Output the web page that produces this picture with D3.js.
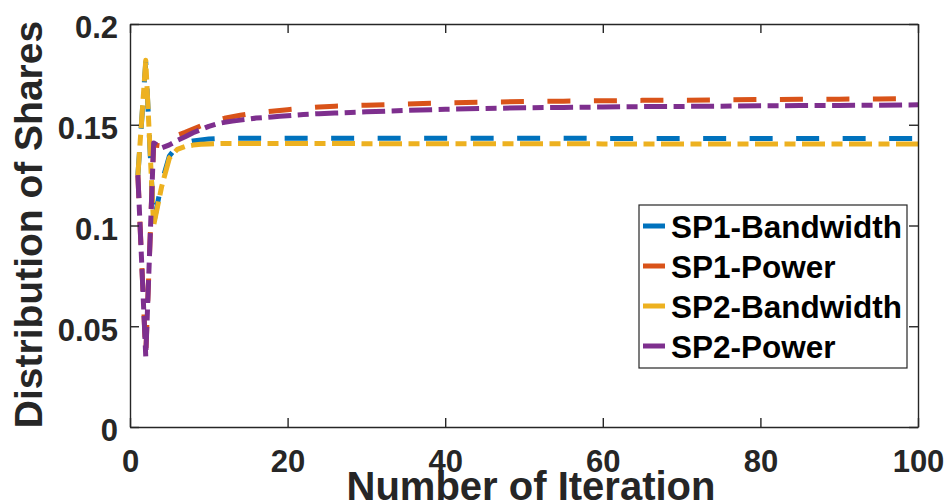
<!DOCTYPE html>
<html>
<head>
<meta charset="utf-8">
<script src="https://cdn.jsdelivr.net/npm/d3@7"></script>
<style>
  html, body { margin: 0; padding: 0; background: #fff; }
  svg { display: block; }
  text { font-family: "Liberation Sans", Arial, Helvetica, sans-serif; font-weight: bold; }
</style>
</head>
<body>
<svg id="chart" width="949" height="501"></svg>
<script>
// ---- data ----
const iterations = [1,2,3,4,5,6,7,8,9,10,11,12,13,14,15,16,17,18,19,20,22,24,26,28,30,35,40,45,50,55,60,65,70,75,80,85,90,95,100];

const sp1Bandwidth = [0.125,0.181,0.101,0.121,0.1345,0.1395,0.1411,0.1419,0.1425,0.1429,0.1431,0.1432,0.1433,0.1433,0.1433,0.1433,0.1433,0.1433,0.1433,0.1433,0.1433,0.1433,0.1433,0.1433,0.1433,0.1433,0.1433,0.1433,0.1433,0.1433,0.1432,0.1432,0.1432,0.1432,0.1432,0.1432,0.1432,0.1432,0.1432];

const sp1Power = [0.125,0.036,0.140,0.1395,0.1432,0.1448,0.1462,0.1478,0.1495,0.1510,0.1522,0.1532,0.1540,0.1547,0.1553,0.1558,0.1563,0.1567,0.1571,0.1575,0.1582,0.1588,0.1592,0.1595,0.1597,0.1603,0.1608,0.1612,0.1615,0.1617,0.1619,0.1621,0.1622,0.1623,0.1625,0.1626,0.1627,0.1628,0.1630];

const sp2Bandwidth = [0.125,0.182,0.100,0.119,0.1335,0.1378,0.1392,0.1399,0.1403,0.1405,0.1406,0.1407,0.1407,0.1407,0.1407,0.1407,0.1407,0.1407,0.1407,0.1407,0.1407,0.1407,0.1407,0.1407,0.1406,0.1406,0.1406,0.1406,0.1406,0.1406,0.1405,0.1405,0.1405,0.1405,0.1405,0.1405,0.1405,0.1405,0.1405];

const sp2Power = [0.125,0.035,0.141,0.1385,0.1400,0.1422,0.1440,0.1460,0.1476,0.1492,0.1504,0.1512,0.1518,0.1523,0.1528,0.1533,0.1536,0.1539,0.1542,0.1545,0.1551,0.1555,0.1558,0.1561,0.1564,0.1571,0.1577,0.1581,0.1584,0.1586,0.1588,0.1590,0.1591,0.1592,0.1594,0.1595,0.1596,0.1597,0.1599];

const seriesNames = ["SP1-Bandwidth", "SP1-Power", "SP2-Bandwidth", "SP2-Power"];
const seriesValues = [sp1Bandwidth, sp1Power, sp2Bandwidth, sp2Power];
const xTicks = [0, 20, 40, 60, 80, 100];
const yTicks = [0, 0.05, 0.1, 0.15, 0.2];
const xLabel = "Number of Iteration";
const yLabel = "Distribution of Shares";

// ---- styles ----
const colors = ["#0072BD", "#D95319", "#EDB120", "#7E2F8E"];
const dashes = ["23,23.5", "23,23.5", "23,6.5,11,6.5", "23,6.5,11,6.5"];
const axisColor = "#262626";

const svg = d3.select("#chart");
const pLeft = 130, pRight = 918, pTop = 24, pBottom = 427;

const x = d3.scaleLinear().domain([0, 100]).range([pLeft, pRight]);
const y = d3.scaleLinear().domain([0, 0.2]).range([pBottom, pTop]);

const fmt = d => String(+(+d).toFixed(2));

// lines
svg.append("clipPath").attr("id", "plotclip")
  .append("rect").attr("x", pLeft).attr("y", pTop - 5).attr("width", pRight - pLeft).attr("height", pBottom - pTop + 5);

const line = d3.line().x((d, i) => x(iterations[i])).y(d => y(d));
const lg = svg.append("g").attr("clip-path", "url(#plotclip)");
seriesValues.forEach((vals, k) => {
  lg.append("path")
    .attr("d", line(vals))
    .attr("fill", "none")
    .attr("stroke", colors[k])
    .attr("stroke-width", 5)
    .attr("stroke-dasharray", dashes[k])
    .attr("stroke-linejoin", "round");
});

// axes
function styleAxis(g) {
  g.select(".domain").attr("stroke", axisColor).attr("stroke-width", 1.4);
  g.selectAll(".tick line").attr("stroke", axisColor).attr("stroke-width", 1.4);
  g.selectAll(".tick text").attr("fill", axisColor).style("font-size", "31px").style("font-weight", "bold")
    .style("font-family", '"Liberation Sans", Arial, Helvetica, sans-serif');
}

const gx = svg.append("g").attr("transform", `translate(0,${pBottom})`)
  .call(d3.axisBottom(x).tickValues(xTicks).tickFormat(fmt).tickSizeInner(-9).tickSizeOuter(0).tickPadding(23));
styleAxis(gx);

const gy = svg.append("g").attr("transform", `translate(${pLeft},0)`)
  .call(d3.axisLeft(y).tickValues(yTicks).tickFormat(fmt).tickSizeInner(-9).tickSizeOuter(0).tickPadding(12));
styleAxis(gy);
gy.selectAll(".tick text").attr("dy", "0.45em");

const gt = svg.append("g").attr("transform", `translate(0,${pTop})`)
  .call(d3.axisTop(x).tickValues(xTicks).tickFormat("").tickSizeInner(-9).tickSizeOuter(0));
styleAxis(gt);

const gr = svg.append("g").attr("transform", `translate(${pRight},0)`)
  .call(d3.axisRight(y).tickValues(yTicks).tickFormat("").tickSizeInner(-9).tickSizeOuter(0));
styleAxis(gr);

// axis labels
svg.append("text")
  .attr("x", 531).attr("y", 500)
  .attr("text-anchor", "middle")
  .attr("fill", axisColor)
  .style("font-size", "40px")
  .text(xLabel);

svg.append("text")
  .attr("transform", `translate(42,${(pTop + pBottom) / 2 - 1}) rotate(-90)`)
  .attr("text-anchor", "middle")
  .attr("fill", axisColor)
  .style("font-size", "39px")
  .text(yLabel);

// legend
const legend = svg.append("g");
legend.append("rect")
  .attr("x", 639).attr("y", 205).attr("width", 268).attr("height", 163)
  .attr("fill", "#fff").attr("stroke", axisColor).attr("stroke-width", 1.2);
seriesNames.forEach((name, k) => {
  const yy = 226 + k * 40;
  legend.append("line")
    .attr("x1", 643).attr("x2", 665).attr("y1", yy).attr("y2", yy)
    .attr("stroke", colors[k]).attr("stroke-width", 5);
  legend.append("text")
    .attr("x", 671).attr("y", yy + 12)
    .attr("fill", "#000")
    .style("font-size", "31.5px")
    .text(name);
});
</script>
</body>
</html>
